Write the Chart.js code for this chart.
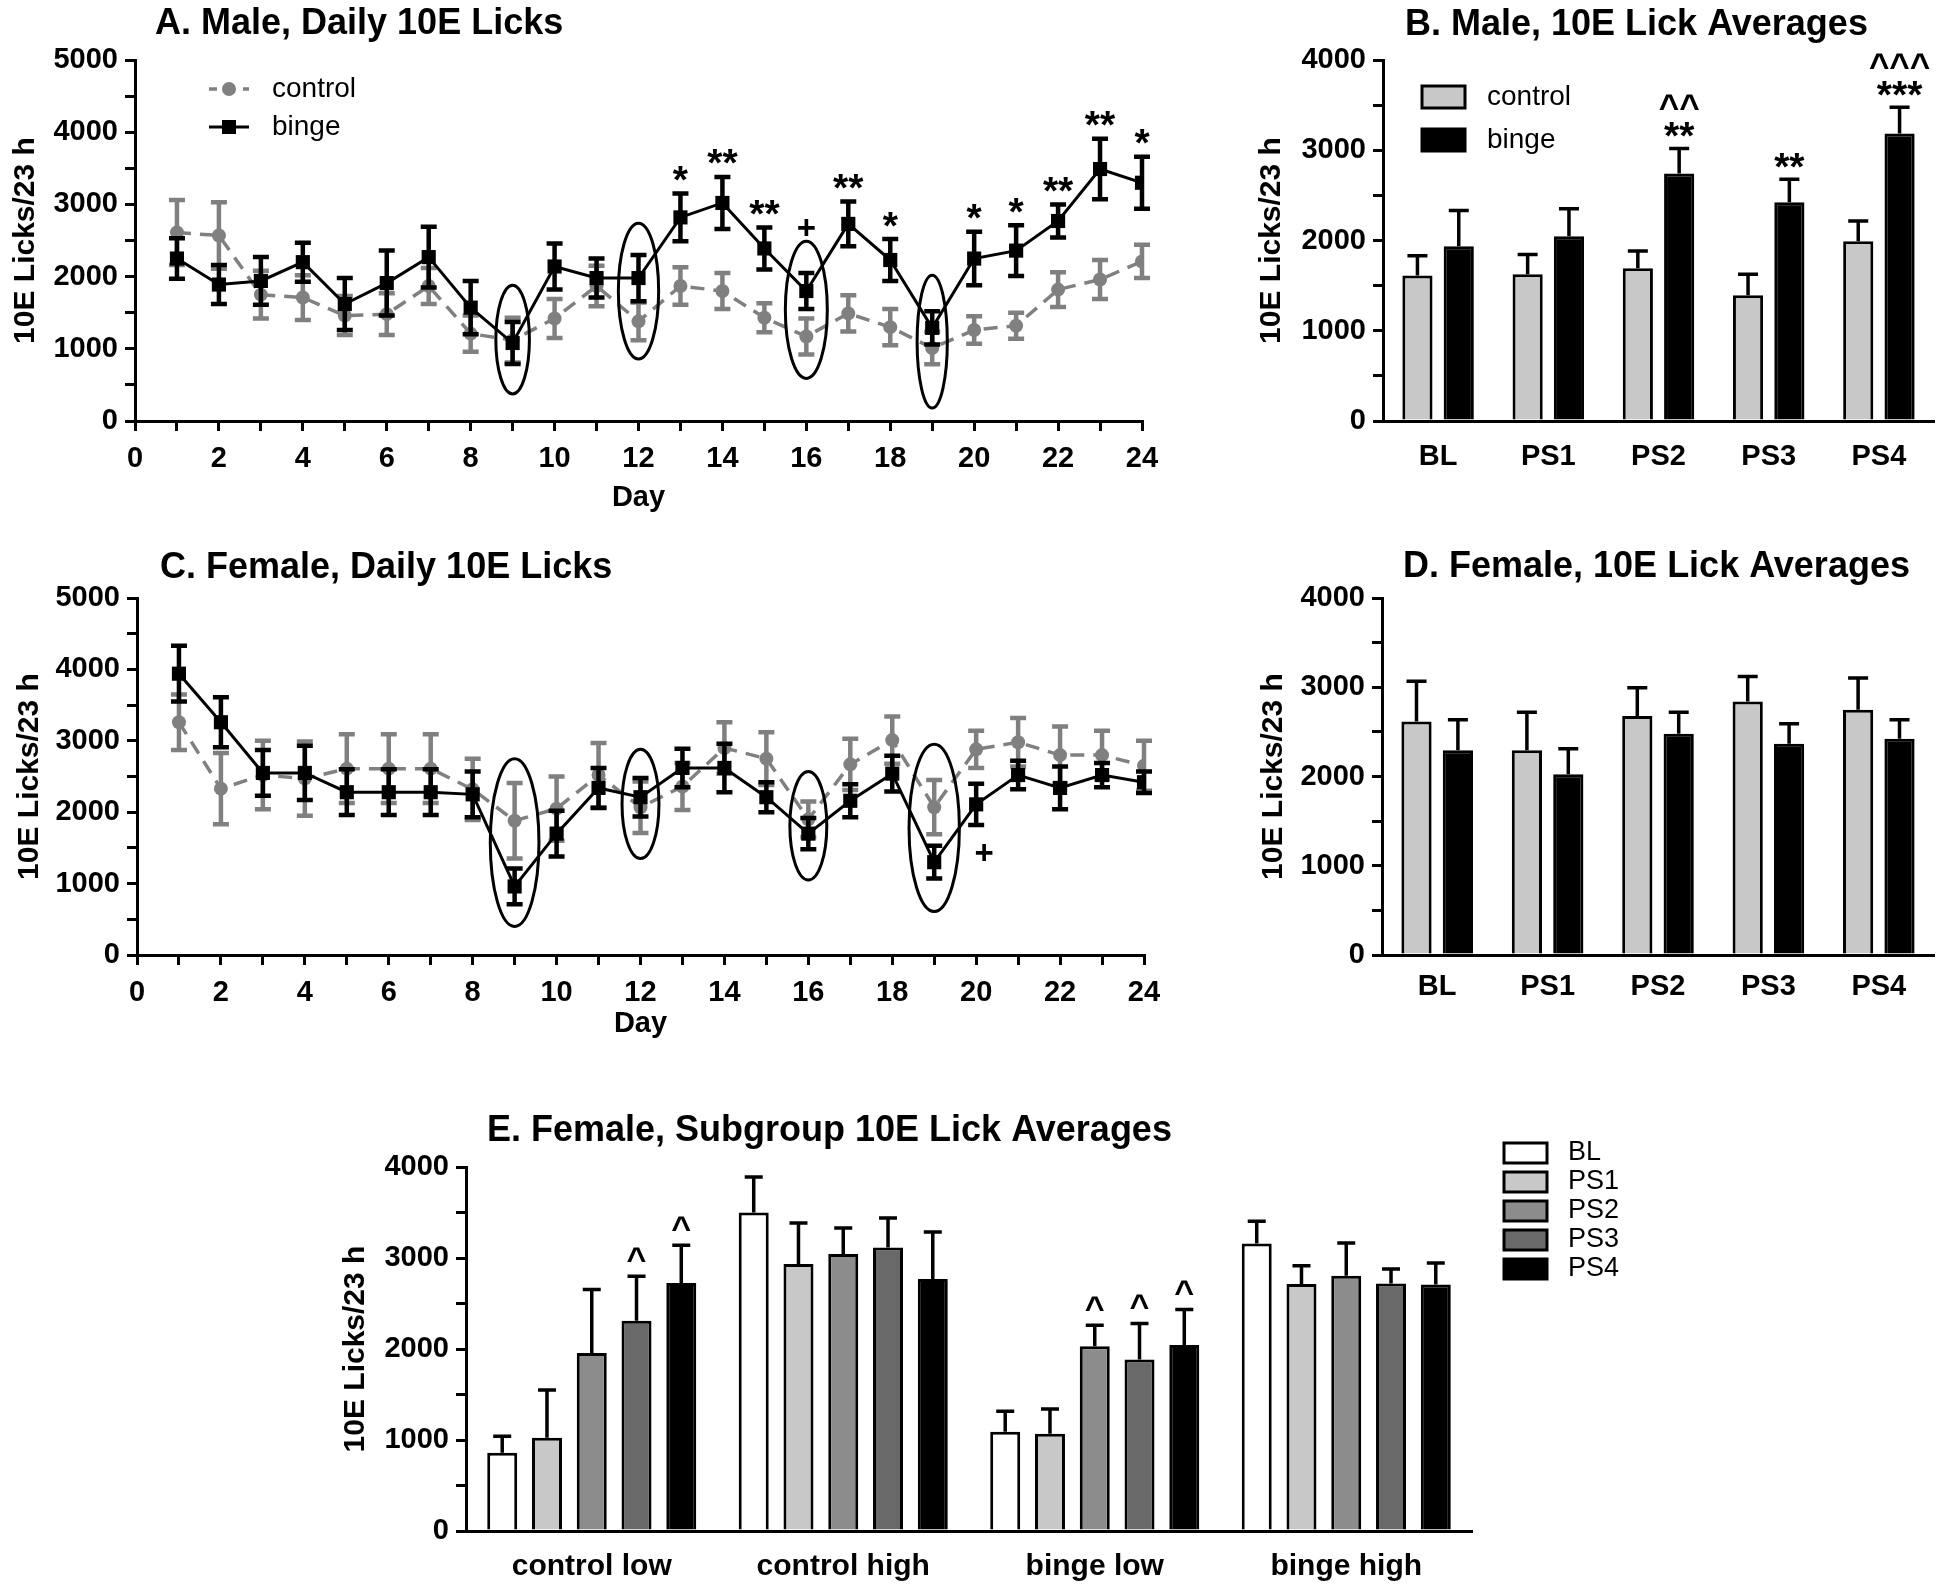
<!DOCTYPE html>
<html>
<head>
<meta charset="utf-8">
<title>10E licks</title>
<script src="https://cdn.jsdelivr.net/npm/chart.js@4.4.1/dist/chart.umd.min.js"></script>
<style>
  html, body { margin: 0; padding: 0; background: #fff; }
  body { position: relative; width: 1950px; height: 1593px; overflow: hidden; }
  canvas { position: absolute; }
</style>
</head>
<body>
<canvas id="chartA" width="1180" height="540" style="left:0;top:0"></canvas>
<canvas id="chartB" width="720" height="540" style="left:1230px;top:0"></canvas>
<canvas id="chartC" width="1180" height="520" style="left:0;top:540px"></canvas>
<canvas id="chartD" width="720" height="520" style="left:1230px;top:540px"></canvas>
<canvas id="chartE" width="1620" height="503" style="left:330px;top:1090px"></canvas>
<script>
// daily lick data (mean and SEM)
const days = [1, 2, 3, 4, 5, 6, 7, 8, 9, 10, 11, 12, 13, 14, 15, 16, 17, 18, 19, 20, 21, 22, 23, 24];

const maleControl    = [2610, 2570, 1750, 1710, 1460, 1480, 1870, 1210, 1120, 1420, 1870, 1380, 1870, 1800, 1430, 1170, 1490, 1300, 1010, 1260, 1320, 1820, 1960, 2210];
const maleControlSem = [450, 460, 330, 310, 270, 290, 250, 250, 310, 270, 280, 260, 260, 250, 200, 250, 250, 250, 225, 190, 180, 240, 270, 230];
const maleBinge      = [2250, 1890, 1940, 2200, 1620, 1910, 2270, 1570, 1080, 2140, 1980, 1980, 2820, 3020, 2390, 1800, 2730, 2230, 1290, 2250, 2360, 2770, 3490, 3300];
const maleBingeSem   = [280, 270, 330, 270, 360, 450, 420, 370, 290, 320, 270, 320, 330, 360, 290, 250, 310, 290, 230, 370, 350, 230, 420, 360];

const femaleControl    = [3260, 2330, 2520, 2470, 2610, 2610, 2610, 2320, 1880, 2050, 2520, 2070, 2360, 2900, 2750, 1900, 2670, 3010, 2070, 2880, 2980, 2800, 2800, 2650];
const femaleControlSem = [390, 500, 480, 520, 480, 480, 480, 430, 530, 450, 450, 360, 330, 360, 370, 250, 360, 330, 380, 260, 340, 400, 340, 350];
const femaleBinge      = [3940, 3260, 2550, 2550, 2280, 2280, 2280, 2250, 960, 1700, 2340, 2210, 2620, 2620, 2210, 1700, 2160, 2540, 1300, 2110, 2520, 2340, 2520, 2420];
const femaleBingeSem   = [390, 350, 320, 380, 320, 320, 320, 320, 250, 320, 280, 270, 270, 340, 210, 220, 230, 250, 230, 290, 200, 300, 170, 150];

// significance marks on the daily panels
const maleMarkDays  = [13, 14, 15, 16, 17, 18, 20, 21, 22, 23, 24];
const maleMarkTexts = ['*', '**', '**', '+', '**', '*', '*', '*', '**', '**', '*'];
const femaleMarkDays  = [20];
const femaleMarkTexts = ['+'];

// circled days (value range and half width in days)
const maleRingDays = [9, 12, 16, 19];
const maleRingLo   = [375, 860, 590, 180];
const maleRingHi   = [1880, 2740, 2490, 2020];
const maleRingHalf = [0.4, 0.48, 0.5, 0.36];
const femaleRingDays = [9, 12, 16, 19];
const femaleRingLo   = [400, 1350, 1050, 610];
const femaleRingHi   = [2750, 2880, 2570, 2950];
const femaleRingHalf = [0.58, 0.44, 0.44, 0.6];

// period averages
const periods = ['BL', 'PS1', 'PS2', 'PS3', 'PS4'];
const maleAvgControl    = [1613, 1627, 1693, 1392, 1993];
const maleAvgControlSem = [217, 217, 191, 235, 224];
const maleAvgBinge      = [1935, 2047, 2741, 2423, 3186];
const maleAvgBingeSem   = [398, 304, 279, 257, 290];
const maleAvgMarks      = [[], [], ['**', '^^'], ['**'], ['***', '^^^']];

const femaleAvgControl    = [2617, 2293, 2677, 2841, 2747];
const femaleAvgControlSem = [451, 428, 316, 279, 358];
const femaleAvgBinge      = [2293, 2024, 2479, 2367, 2423];
const femaleAvgBingeSem   = [343, 287, 242, 224, 213];

// female subgroups
const subgroups = ['control low', 'control high', 'binge low', 'binge high'];
const subBL     = [860, 3500, 1090, 3160];
const subBLSem  = [180, 390, 225, 245];
const subPS1    = [1025, 2935, 1070, 2715];
const subPS1Sem = [525, 450, 270, 200];
const subPS2    = [1955, 3045, 2030, 2805];
const subPS2Sem = [700, 285, 230, 360];
const subPS3    = [2310, 3115, 1885, 2720];
const subPS3Sem = [490, 325, 395, 160];
const subPS4    = [2725, 2770, 2045, 2710];
const subPS4Sem = [415, 515, 390, 235];
const caretSeries = [3, 4, 2, 3, 4];
const caretGroups = [0, 0, 2, 2, 2];

const FONT = "'Liberation Sans', Arial, Helvetica, sans-serif";
Chart.defaults.font.family = FONT;
Chart.defaults.color = '#000';
Chart.defaults.animation = false;
Chart.defaults.plugins.legend.display = false;
Chart.defaults.plugins.tooltip.enabled = false;

// ---------- helpers ----------
function drawGlyph(ctx, text, x, cy, font) {
  ctx.font = font;
  ctx.textAlign = 'center';
  ctx.textBaseline = 'alphabetic';
  const m = ctx.measureText(text);
  ctx.fillText(text, x, cy + (m.actualBoundingBoxAscent - m.actualBoundingBoxDescent) / 2);
}

function countAxis(max, width, titlePad) {
  return {
    min: 0, max: max,
    ticks: {
      stepSize: 500, autoSkip: false, padding: 7,
      font: { size: 29, weight: 'bold' }, color: '#000',
      callback: v => (v % 1000 === 0 ? v : '')
    },
    grid: { drawOnChartArea: false, drawTicks: true, tickLength: 10, color: '#000', lineWidth: 3 },
    border: { display: true, color: '#000', width: 3 },
    title: {
      display: true, text: '10E Licks/23 h', color: '#000',
      font: { size: 30, weight: 'bold' }, padding: { top: titlePad, bottom: 0 }
    },
    afterFit: s => { s.width = width; }
  };
}

function dayAxis(height, titlePad) {
  return {
    type: 'linear', min: 0, max: 24, offset: false,
    ticks: {
      stepSize: 1, autoSkip: false, maxRotation: 0, padding: 11,
      font: { size: 29, weight: 'bold' }, color: '#000',
      callback: v => (v % 2 === 0 ? v : '')
    },
    grid: { drawOnChartArea: false, drawTicks: true, tickLength: 10, color: '#000', lineWidth: 3, offset: false },
    border: { display: true, color: '#000', width: 3 },
    title: {
      display: true, text: 'Day', color: '#000',
      font: { size: 29, weight: 'bold' }, padding: { top: 0, bottom: titlePad }
    },
    afterFit: s => { s.height = height; }
  };
}

function groupAxis(height, pad, size) {
  return {
    ticks: { padding: pad, maxRotation: 0, autoSkip: false, font: { size: size, weight: 'bold' }, color: '#000' },
    grid: { drawOnChartArea: false, drawTicks: false },
    border: { display: true, color: '#000', width: 3 },
    afterFit: s => { s.height = height; }
  };
}

function panelTitle(text, dx, cy) {
  return {
    id: 'panelTitle',
    afterDraw(chart) {
      const ctx = chart.ctx;
      ctx.save();
      ctx.fillStyle = '#000';
      ctx.font = 'bold 36px ' + FONT;
      ctx.textAlign = 'left';
      ctx.textBaseline = 'alphabetic';
      const m = ctx.measureText('A');
      ctx.fillText(text, chart.chartArea.left + dx, cy + m.actualBoundingBoxAscent / 2);
      ctx.restore();
    }
  };
}

function errorBars(cap, width, upOnly) {
  return {
    id: 'errorBars',
    beforeDatasetDraw(chart, args) {
      const ds = chart.data.datasets[args.index];
      if (!ds.sem) return;
      const ctx = chart.ctx, ys = chart.scales.y;
      ctx.save();
      ctx.strokeStyle = ds.errorColor || '#000';
      ctx.lineWidth = width;
      ctx.setLineDash([]);
      args.meta.data.forEach((el, j) => {
        const v = args.meta.controller.getParsed(j).y;
        const s = ds.sem[j];
        const top = ys.getPixelForValue(v + s);
        const bot = ys.getPixelForValue(upOnly ? v : v - s);
        ctx.beginPath();
        ctx.moveTo(el.x, bot);
        ctx.lineTo(el.x, top);
        ctx.moveTo(el.x - cap, top);
        ctx.lineTo(el.x + cap, top);
        if (!upOnly) {
          ctx.moveTo(el.x - cap, bot);
          ctx.lineTo(el.x + cap, bot);
        }
        ctx.stroke();
      });
      ctx.restore();
    }
  };
}

function rings(ringDays, lo, hi, half) {
  return {
    id: 'rings',
    afterDatasetsDraw(chart) {
      const ctx = chart.ctx, xs = chart.scales.x, ys = chart.scales.y;
      ctx.save();
      ctx.strokeStyle = '#000';
      ctx.lineWidth = 3;
      ringDays.forEach((d, i) => {
        const cx = xs.getPixelForValue(d);
        const rx = xs.getPixelForValue(d + half[i]) - cx;
        const top = ys.getPixelForValue(hi[i]);
        const bot = ys.getPixelForValue(lo[i]);
        ctx.beginPath();
        ctx.ellipse(cx, (top + bot) / 2, rx, (bot - top) / 2, 0, 0, Math.PI * 2);
        ctx.stroke();
      });
      ctx.restore();
    }
  };
}

// marks above (or below) the binge series of a daily panel
function dailyMarks(markDays, markTexts, means, sems, below) {
  return {
    id: 'dailyMarks',
    afterDatasetsDraw(chart) {
      const ctx = chart.ctx, xs = chart.scales.x, ys = chart.scales.y;
      ctx.save();
      ctx.fillStyle = '#000';
      markDays.forEach((d, k) => {
        const i = days.indexOf(d);
        const t = markTexts[k];
        const plus = t === '+';
        const font = plus ? 'bold 33px ' + FONT : 'bold 39px ' + FONT;
        if (below) {
          const bot = ys.getPixelForValue(means[i] - sems[i]);
          drawGlyph(ctx, t, xs.getPixelForValue(d) + 8, bot + 27, font);
        } else {
          const top = ys.getPixelForValue(means[i] + sems[i]);
          drawGlyph(ctx, t, xs.getPixelForValue(d), top - (plus ? 45 : 20), font);
        }
      });
      ctx.restore();
    }
  };
}

function lineLegend(order, dx, dy, gap, textDx) {
  return {
    id: 'lineLegend',
    afterDraw(chart) {
      const ctx = chart.ctx, a = chart.chartArea;
      order.forEach((di, row) => {
        const ds = chart.data.datasets[di];
        const cy = a.top + dy + row * gap;
        const x0 = a.left + dx;
        ctx.save();
        ctx.strokeStyle = ds.borderColor;
        ctx.lineWidth = ds.borderWidth;
        ctx.setLineDash(ds.borderDash ? [8, 9] : []);
        ctx.beginPath();
        ctx.moveTo(x0, cy);
        ctx.lineTo(x0 + 40, cy);
        ctx.stroke();
        ctx.setLineDash([]);
        ctx.fillStyle = ds.pointBackgroundColor;
        ctx.beginPath();
        if (ds.pointStyle === 'rect') {
          ctx.rect(x0 + 20 - 7, cy - 7, 14, 14);
        } else {
          ctx.arc(x0 + 20, cy, 7, 0, Math.PI * 2);
        }
        ctx.fill();
        ctx.fillStyle = '#000';
        ctx.font = '28px ' + FONT;
        ctx.textAlign = 'left';
        ctx.textBaseline = 'middle';
        ctx.fillText(ds.label, a.left + textDx, cy);
        ctx.restore();
      });
    }
  };
}

function boxLegend(fromRight, dx, dy, gap, boxW, boxH, textDx, size) {
  return {
    id: 'boxLegend',
    afterDraw(chart) {
      const ctx = chart.ctx, a = chart.chartArea;
      chart.data.datasets.forEach((ds, row) => {
        const x0 = (fromRight ? a.right : a.left) + dx;
        const cy = a.top + dy + row * gap;
        ctx.save();
        ctx.fillStyle = ds.backgroundColor;
        ctx.fillRect(x0, cy - boxH / 2, boxW, boxH);
        ctx.strokeStyle = '#000';
        ctx.lineWidth = 3;
        ctx.strokeRect(x0, cy - boxH / 2, boxW, boxH);
        ctx.fillStyle = '#000';
        ctx.font = size + 'px ' + FONT;
        ctx.textAlign = 'left';
        ctx.textBaseline = 'middle';
        ctx.fillText(ds.label, x0 + textDx, cy);
        ctx.restore();
      });
    }
  };
}

function toPoints(values) {
  return days.map((d, i) => ({ x: d, y: values[i] }));
}

function bingeLine(values, sem) {
  return {
    label: 'binge', data: toPoints(values), sem: sem, errorColor: '#000',
    borderColor: '#000', borderWidth: 3, pointStyle: 'rect', pointRadius: 10,
    pointBackgroundColor: '#000', pointBorderColor: '#000', pointBorderWidth: 0, tension: 0
  };
}

function controlLine(values, sem) {
  return {
    label: 'control', data: toPoints(values), sem: sem, errorColor: '#808080',
    borderColor: '#808080', borderWidth: 3.5, borderDash: [14, 9], pointStyle: 'circle', pointRadius: 7,
    pointBackgroundColor: '#808080', pointBorderColor: '#808080', pointBorderWidth: 0, tension: 0
  };
}

// ---------- A. male daily ----------
new Chart(document.getElementById('chartA'), {
  type: 'line',
  data: { datasets: [bingeLine(maleBinge, maleBingeSem), controlLine(maleControl, maleControlSem)] },
  options: {
    responsive: false,
    layout: { padding: { left: 0, top: 60, right: 38, bottom: 0 } },
    scales: { x: dayAxis(119, 25), y: countAxis(5000, 135, 8) }
  },
  plugins: [
    errorBars(8, 4.5, false),
    rings(maleRingDays, maleRingLo, maleRingHi, maleRingHalf),
    dailyMarks(maleMarkDays, maleMarkTexts, maleBinge, maleBingeSem, false),
    lineLegend([1, 0], 74, 29, 38, 137),
    panelTitle('A. Male, Daily 10E Licks', 20, 21)
  ]
});

// ---------- C. female daily ----------
new Chart(document.getElementById('chartC'), {
  type: 'line',
  data: { datasets: [bingeLine(femaleBinge, femaleBingeSem), controlLine(femaleControl, femaleControlSem)] },
  options: {
    responsive: false,
    layout: { padding: { left: 0, top: 58, right: 36, bottom: 0 } },
    scales: { x: dayAxis(105, 19), y: countAxis(5000, 137, 12) }
  },
  plugins: [
    errorBars(8, 4.5, false),
    rings(femaleRingDays, femaleRingLo, femaleRingHi, femaleRingHalf),
    dailyMarks(femaleMarkDays, femaleMarkTexts, femaleBinge, femaleBingeSem, true),
    panelTitle('C. Female, Daily 10E Licks', 23, 25)
  ]
});

// ---------- B / D. period averages ----------
function avgBars(control, controlSem, binge, bingeSem) {
  const common = { borderColor: '#000', borderWidth: 3, categoryPercentage: 0.75, barPercentage: 0.73, errorColor: '#000' };
  return {
    labels: periods,
    datasets: [
      Object.assign({ label: 'control', data: control, sem: controlSem, backgroundColor: '#c8c8c8' }, common),
      Object.assign({ label: 'binge', data: binge, sem: bingeSem, backgroundColor: '#000' }, common)
    ]
  };
}

const avgMarks = {
  id: 'avgMarks',
  afterDatasetsDraw(chart) {
    const ctx = chart.ctx, ys = chart.scales.y;
    const meta = chart.getDatasetMeta(1);
    ctx.save();
    ctx.fillStyle = '#000';
    maleAvgMarks.forEach((lines, j) => {
      const top = ys.getPixelForValue(maleAvgBinge[j] + maleAvgBingeSem[j]);
      lines.forEach((t, k) => {
        const font = t.indexOf('*') >= 0 ? 'bold 39px ' + FONT : 'bold 35px ' + FONT;
        drawGlyph(ctx, t, meta.data[j].x, top - 19 - k * 27, font);
      });
    });
    ctx.restore();
  }
};

new Chart(document.getElementById('chartB'), {
  type: 'bar',
  data: avgBars(maleAvgControl, maleAvgControlSem, maleAvgBinge, maleAvgBingeSem),
  options: {
    responsive: false,
    layout: { padding: { left: 0, top: 60, right: 16, bottom: 0 } },
    scales: { x: groupAxis(119, 19, 29), y: countAxis(4000, 153, 24) }
  },
  plugins: [
    errorBars(10, 3.5, true),
    avgMarks,
    boxLegend(false, 39, 37, 43, 43, 22, 65, 28),
    panelTitle('B. Male, 10E Lick Averages', 22, 22)
  ]
});

new Chart(document.getElementById('chartD'), {
  type: 'bar',
  data: avgBars(femaleAvgControl, femaleAvgControlSem, femaleAvgBinge, femaleAvgBingeSem),
  options: {
    responsive: false,
    layout: { padding: { left: 0, top: 58, right: 16, bottom: 0 } },
    scales: { x: groupAxis(105, 15, 29), y: countAxis(4000, 152, 26) }
  },
  plugins: [
    errorBars(10, 3.5, true),
    panelTitle('D. Female, 10E Lick Averages', 21, 24)
  ]
});

// ---------- E. female subgroups ----------
const subColors = ['#ffffff', '#c8c8c8', '#8c8c8c', '#696969', '#000000'];
const subValues = [subBL, subPS1, subPS2, subPS3, subPS4];
const subSems = [subBLSem, subPS1Sem, subPS2Sem, subPS3Sem, subPS4Sem];

const caretMarks = {
  id: 'caretMarks',
  afterDatasetsDraw(chart) {
    const ctx = chart.ctx, ys = chart.scales.y;
    ctx.save();
    ctx.fillStyle = '#000';
    caretSeries.forEach((s, k) => {
      const g = caretGroups[k];
      const el = chart.getDatasetMeta(s).data[g];
      const top = ys.getPixelForValue(subValues[s][g] + subSems[s][g]);
      drawGlyph(ctx, '^', el.x, top - 22, 'bold 34px ' + FONT);
    });
    ctx.restore();
  }
};

new Chart(document.getElementById('chartE'), {
  type: 'bar',
  data: {
    labels: subgroups,
    datasets: periods.map((p, i) => ({
      label: p, data: subValues[i], sem: subSems[i], backgroundColor: subColors[i],
      borderColor: '#000', borderWidth: 3, categoryPercentage: 0.89, barPercentage: 0.67, errorColor: '#000'
    }))
  },
  options: {
    responsive: false,
    layout: { padding: { left: 0, top: 77, right: 478, bottom: 0 } },
    scales: { x: groupAxis(62, 18, 30), y: countAxis(4000, 136, 8) }
  },
  plugins: [
    errorBars(9, 3.5, true),
    caretMarks,
    boxLegend(true, 32, -14, 29, 43, 20, 64, 27),
    panelTitle('E. Female, Subgroup 10E Lick Averages', 21, 38)
  ]
});
</script>
</body>
</html>
